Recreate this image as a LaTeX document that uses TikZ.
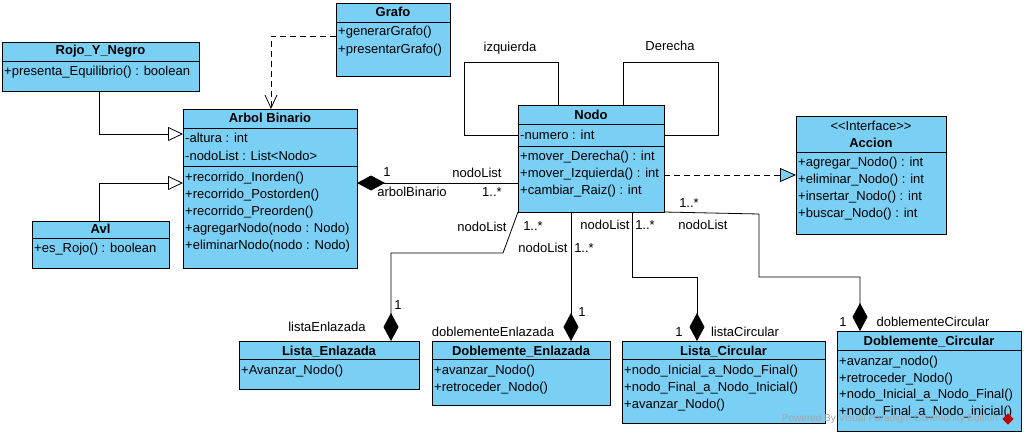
\documentclass[tikz,border=0pt]{standalone}
\usepackage{fontspec}
\setmainfont{Liberation Sans}
\usetikzlibrary{arrows.meta}
\definecolor{classblue}{RGB}{122,207,245}
\begin{document}
\begin{tikzpicture}[x=1pt,y=-1pt,
  font=\fontsize{13}{15}\selectfont,
  cls/.style={draw=black, fill=classblue, line width=0.9pt, inner sep=0pt, outer sep=0pt, anchor=north west},
  row/.style={anchor=west, inner sep=0pt, text height=9.5pt, text depth=3pt},
  hdr/.style={anchor=center, inner sep=0pt, text height=9.5pt, text depth=3pt, font=\fontsize{13}{15}\selectfont\bfseries},
  lbl/.style={inner sep=0pt, text height=9.5pt, text depth=3pt},
  sep/.style={line width=0.9pt},
  line/.style={line width=0.8pt},
  gen/.style={line width=0.8pt, -{Triangle[length=15pt,width=14pt,fill=white,line width=0.8pt]}},
  dep/.style={line width=0.8pt, dash pattern=on 6pt off 4pt, -{Straight Barb[length=13pt,width=12pt,line width=0.8pt]}},
  real/.style={line width=0.8pt, dash pattern=on 6pt off 4pt, -{Triangle[length=16pt,width=14pt,fill=classblue,line width=0.8pt]}},
  comp/.style={line width=0.8pt, -{Diamond[length=28pt,width=15pt]}}
]
\useasboundingbox (0,0) rectangle (1025,436);

% Rojo_Y_Negro
\node[cls, minimum width=197pt, minimum height=49pt] (rojo) at (2,42) {};
\draw[sep] ([yshift=-19pt]rojo.north west) -- ([yshift=-19pt]rojo.north east);
\node[hdr] (rojoh) at (100.5,51.5) {Rojo\_Y\_Negro};
\node[row] (rojo1) at (4,72) {+presenta\_Equilibrio() : boolean};

% Grafo
\node[cls, minimum width=114pt, minimum height=73pt] (grafo) at (336,3) {};
\draw[sep] ([yshift=-19pt]grafo.north west) -- ([yshift=-19pt]grafo.north east);
\node[hdr] (grafoh) at (393,13) {Grafo};
\node[row] (grafo1) at (338,32) {+generarGrafo()};
\node[row] (grafo2) at (338,50) {+presentarGrafo()};

% Arbol Binario
\node[cls, minimum width=174pt, minimum height=159pt] (arbol) at (183,109) {};
\draw[sep] ([yshift=-19pt]arbol.north west) -- ([yshift=-19pt]arbol.north east);
\draw[sep] ([yshift=-57pt]arbol.north west) -- ([yshift=-57pt]arbol.north east);
\node[hdr] (arbolh) at (270,119) {Arbol Binario};
\node[row] (arbol1) at (185,139) {-altura : int};
\node[row] (arbol2) at (185,157) {-nodoList : List<Nodo>};
\node[row] (arbol3) at (185,178) {+recorrido\_Inorden()};
\node[row] (arbol4) at (185,195) {+recorrido\_Postorden()};
\node[row] (arbol5) at (185,212) {+recorrido\_Preorden()};
\node[row] (arbol6) at (185,229) {+agregarNodo(nodo : Nodo)};
\node[row] (arbol7) at (185,246) {+eliminarNodo(nodo : Nodo)};

% Avl
\node[cls, minimum width=137pt, minimum height=47pt] (avl) at (32,221) {};
\draw[sep] ([yshift=-17pt]avl.north west) -- ([yshift=-17pt]avl.north east);
\node[hdr] (avlh) at (100.5,230) {Avl};
\node[row] (avl1) at (34,249) {+es\_Rojo() : boolean};

% Nodo
\node[cls, minimum width=146pt, minimum height=107pt] (nodo) at (518,105) {};
\draw[sep] ([yshift=-19pt]nodo.north west) -- ([yshift=-19pt]nodo.north east);
\draw[sep] ([yshift=-41pt]nodo.north west) -- ([yshift=-41pt]nodo.north east);
\node[hdr] (nodoh) at (591,116) {Nodo};
\node[row] (nodo1) at (520,136) {-numero : int};
\node[row] (nodo2) at (520,157) {+mover\_Derecha() : int};
\node[row] (nodo3) at (520,174) {+mover\_Izquierda() : int};
\node[row] (nodo4) at (520,191) {+cambiar\_Raiz() : int};

% Accion
\node[cls, minimum width=150pt, minimum height=118pt] (accion) at (796,116) {};
\draw[sep] ([yshift=-36pt]accion.north west) -- ([yshift=-36pt]accion.north east);
\node[lbl] (accions) at (871,127) {{<}{<}Interface{>}{>}};
\node[hdr] (accionh) at (871,144) {Accion};
\node[row] (accion1) at (798,163) {+agregar\_Nodo() : int};
\node[row] (accion2) at (798,180) {+eliminar\_Nodo() : int};
\node[row] (accion3) at (798,197) {+insertar\_Nodo() : int};
\node[row] (accion4) at (798,214) {+buscar\_Nodo() : int};

% Lista_Enlazada
\node[cls, minimum width=180pt, minimum height=48pt] (listae) at (239,341) {};
\draw[sep] ([yshift=-18pt]listae.north west) -- ([yshift=-18pt]listae.north east);
\node[hdr] (listaeh) at (329,352) {Lista\_Enlazada};
\node[row] (listae1) at (241,371) {+Avanzar\_Nodo()};

% Doblemente_Enlazada
\node[cls, minimum width=178pt, minimum height=64pt] (doblee) at (432,341) {};
\draw[sep] ([yshift=-18pt]doblee.north west) -- ([yshift=-18pt]doblee.north east);
\node[hdr] (dobleeh) at (521,352) {Doblemente\_Enlazada};
\node[row] (doblee1) at (434,371) {+avanzar\_Nodo()};
\node[row] (doblee2) at (434,388) {+retroceder\_Nodo()};

% Lista_Circular
\node[cls, minimum width=203pt, minimum height=82pt] (listac) at (622,341) {};
\draw[sep] ([yshift=-18pt]listac.north west) -- ([yshift=-18pt]listac.north east);
\node[hdr] (listach) at (723.5,352) {Lista\_Circular};
\node[row] (listac1) at (624,371) {+nodo\_Inicial\_a\_Nodo\_Final()};
\node[row] (listac2) at (624,388) {+nodo\_Final\_a\_Nodo\_Inicial()};
\node[row] (listac3) at (624,405) {+avanzar\_Nodo()};

% Doblemente_Circular
\node[cls, minimum width=184pt, minimum height=100pt] (doblec) at (837,331) {};
\draw[sep] ([yshift=-19pt]doblec.north west) -- ([yshift=-19pt]doblec.north east);
\node[hdr] (doblech) at (929,342) {Doblemente\_Circular};
\node[row] (doblec1) at (839,362) {+avanzar\_nodo()};
\node[row] (doblec2) at (839,379) {+retroceder\_Nodo()};
\node[row] (doblec3) at (839,395) {+nodo\_Inicial\_a\_Nodo\_Final()};
\node[row] (doblec4) at (839,412) {+nodo\_Final\_a\_Nodo\_inicial()};

% bend points
\coordinate (izq) at (464,62);
\coordinate (der) at (718,62);
\coordinate (le1) at (503,253);
\coordinate (lc1) at (697,277);
\coordinate (dc1) at (759,214);
\coordinate (dc2) at (860,277);

% connectors
\draw[gen] ([xshift=97pt]rojo.south west) |- ([yshift=-25pt]arbol.north west);
\draw[gen] ([xshift=67pt]avl.north west) |- ([yshift=-74pt]arbol.north west);
\draw[dep] ([yshift=-33pt]grafo.north west) -| ([xshift=88pt]arbol.north west);
\draw[comp] ([yshift=-78pt]nodo.north west) -- ([yshift=-74pt]arbol.north east);
\draw[real] ([yshift=-70pt]nodo.north east) -- ([yshift=-59pt]accion.north west);
\draw[line] ([xshift=40pt]nodo.north west) |- (izq) |- ([yshift=-30pt]nodo.north west);
\draw[line] ([xshift=105pt]nodo.north west) |- (der) |- ([yshift=-30pt]nodo.north east);
\draw[comp] (nodo.south west) -- (le1) -| ([xshift=152pt]listae.north west);
\draw[comp] ([xshift=53pt]nodo.south west) -- ([xshift=139pt]doblee.north west);
\draw[comp] ([xshift=114pt]nodo.south west) |- (lc1) -- ([xshift=75pt]listac.north west);
\draw[comp] (nodo.south east) -- (dc1) |- (dc2) -- ([xshift=23pt]doblec.north west);

% labels
\node[lbl] (lizq) at (510,48) {izquierda};
\node[lbl] (lder) at (670,47) {Derecha};
\node[lbl] (l1a) at (387,173) {1};
\node[lbl] (l1b) at (477,174) {nodoList};
\node[lbl] (l1c) at (412,193) {arbolBinario};
\node[lbl] (l1d) at (492,193) {1..*};
\node[lbl] (l2a) at (482,228) {nodoList};
\node[lbl] (l2b) at (533,227) {1..*};
\node[lbl] (l2c) at (398,306) {1};
\node[lbl] (l2d) at (327,328) {listaEnlazada};
\node[lbl] (l3a) at (543,249) {nodoList};
\node[lbl] (l3b) at (584,249) {1..*};
\node[lbl] (l3c) at (582,313) {1};
\node[lbl] (l3d) at (493,333) {doblementeEnlazada};
\node[lbl] (l4a) at (605,226) {nodoList};
\node[lbl] (l4b) at (645,226) {1..*};
\node[lbl] (l4c) at (679,333) {1};
\node[lbl] (l4d) at (745,333) {listaCircular};
\node[lbl] (l5a) at (703,226) {nodoList};
\node[lbl] (l5b) at (689,204) {1..*};
\node[lbl] (l5c) at (843,323) {1};
\node[lbl] (l5d) at (933,323) {doblementeCircular};

% watermark
\node[inner sep=0pt, font=\fontsize{10}{12}\selectfont, text=black!35] (wm) at (890,419) {Powered By Visual Paradigm Community Edition};
\node[fill=red!75!black, minimum size=8pt, inner sep=0pt, rotate=45] (logo) at (1008,419) {};
\end{tikzpicture}
\end{document}
